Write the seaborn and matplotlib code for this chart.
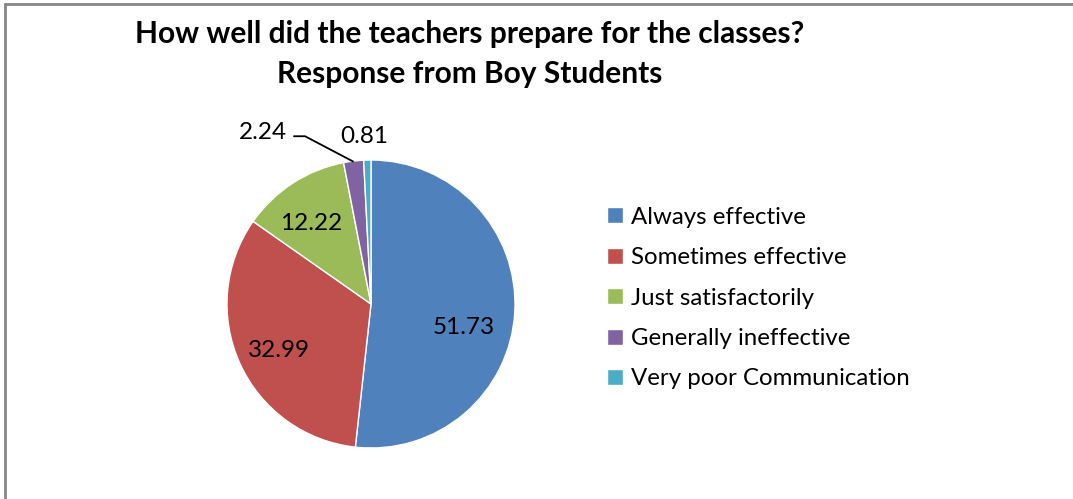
import matplotlib
matplotlib.use("Agg")
import matplotlib.pyplot as plt
import seaborn as sns
from matplotlib.lines import Line2D

# data
categories = ["Always effective", "Sometimes effective", "Just satisfactorily",
              "Generally ineffective", "Very poor Communication"]
values = [51.73, 32.99, 12.22, 2.24, 0.81]
value_labels = ["51.73", "32.99", "12.22", "2.24", "0.81"]
colors = ["#4F81BD", "#C0504D", "#9BBB59", "#8064A2", "#4BACC6"]

sns.set_theme(style="white")
plt.rcParams['font.family'] = ['Lato', 'DejaVu Sans']
plt.rcParams['text.color'] = 'black'

fig = plt.figure(figsize=(10.73, 4.99), dpi=100)
ax = fig.add_axes([227 / 1073, 51 / 499, 288 / 1073, 288 / 499])

wedges, _ = ax.pie(values, colors=colors, startangle=90, counterclock=False,
                   wedgeprops=dict(edgecolor="white", linewidth=1))
ax.set_xlim(-1, 1)
ax.set_ylim(-1, 1)
ax.set_aspect("equal")
ax.axis("off")

# data label positions (data coords, radius 1)
label_pos = [(0.646, -0.16), (-0.639, -0.32), (-0.417, 0.556), (-0.75, 1.19), (-0.045, 1.165)]
for txt, (x, y) in zip(value_labels, label_pos):
    ax.text(x, y, txt, ha="center", va="center", fontsize=17.5, color="black", clip_on=False)

# leader line for the small purple slice
ax.plot([-0.535, -0.458, -0.125], [1.165, 1.165, 0.99], color="black", lw=1.3, clip_on=False)

fig.text(0.438, 0.932, "How well did the teachers prepare for the classes?",
         ha="center", va="center", fontsize=21.5, fontweight="bold")
fig.text(0.438, 0.852, "Response from Boy Students",
         ha="center", va="center", fontsize=21.5, fontweight="bold")

fig.legend(wedges, categories, loc="upper left", bbox_to_anchor=(0.566, 0.586),
           frameon=False, fontsize=17.3, handlelength=0.65, handleheight=0.65,
           handletextpad=0.35, labelspacing=0.81, borderaxespad=0, borderpad=0)

# chart frame (top and left edges visible)
fig.add_artist(Line2D([5 / 1073, 1], [1 - 4 / 499, 1 - 4 / 499], color="#878787", lw=2))
fig.add_artist(Line2D([5 / 1073, 5 / 1073], [0, 1 - 4 / 499], color="#878787", lw=2))

fig.savefig("out.png", dpi=100)
